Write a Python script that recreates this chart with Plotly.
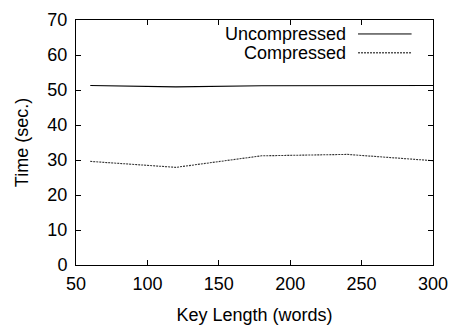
import plotly.graph_objects as go

key_length = [60, 120, 180, 240, 300]
uncompressed = [51.3, 50.9, 51.2, 51.3, 51.3]
compressed = [29.6, 27.9, 31.2, 31.6, 29.8]
series_names = ["Uncompressed", "Compressed"]

FONT = "Liberation Sans, Arial, sans-serif"

fig = go.Figure()
fig.add_trace(go.Scatter(x=key_length, y=uncompressed, mode="lines", name=series_names[0],
                         line=dict(color="black", width=1.1, dash="solid"), showlegend=False))
fig.add_trace(go.Scatter(x=key_length, y=compressed, mode="lines", name=series_names[1],
                         line=dict(color="#333333", width=1.1, dash="2px,1px"), showlegend=False))

# legend emulation (text right, sample line on the right like gnuplot)
legend_y = [0.943, 0.866]
dashes = ["solid", "2px,1px"]
for name, yy, d in zip(series_names, legend_y, dashes):
    fig.add_annotation(x=0.757, y=yy, xref="paper", yref="paper", text=name, showarrow=False,
                       xanchor="right", yanchor="middle", xshift=2,
                       font=dict(size=18, color="black", family=FONT))
    fig.add_shape(type="line", xref="paper", yref="paper", x0=0.79, x1=0.94, y0=yy, y1=yy,
                  line=dict(color="black", width=1, dash=d))

axis_common = dict(showgrid=False, zeroline=False, showline=True, linecolor="black", linewidth=1,
                   mirror="allticks", ticks="inside", ticklen=5, tickcolor="black", automargin=False,
                   tickfont=dict(size=18, color="black", family=FONT))
fig.update_xaxes(range=[50, 300], dtick=50, ticklabelstandoff=2,
                 title=dict(text="Key Length (words)", standoff=15,
                            font=dict(size=18, color="black", family=FONT)), **axis_common)
fig.update_yaxes(range=[0, 70], dtick=10, ticklabelstandoff=4,
                 title=dict(text="Time (sec.)", standoff=14,
                            font=dict(size=18, color="black", family=FONT)), **axis_common)

fig.update_layout(width=451, height=327, margin=dict(l=76, r=18, t=20, b=62),
                  plot_bgcolor="white", paper_bgcolor="white", font=dict(family=FONT))
fig.write_html("out.html", config={"displayModeBar": False},
               post_script="document.body.style.margin='0';document.body.style.overflow='hidden';")
